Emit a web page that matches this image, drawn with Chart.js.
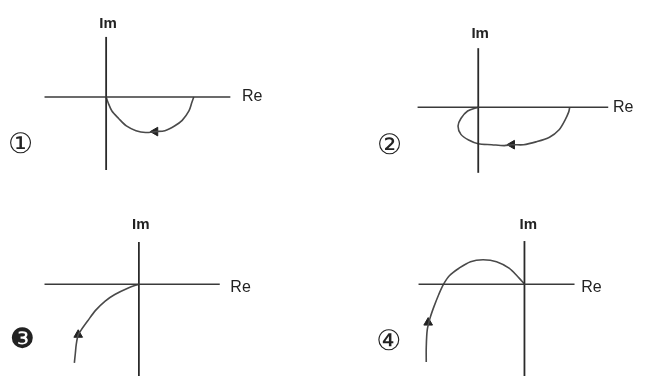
<!DOCTYPE html>
<html>
<head>
<meta charset="utf-8">
<script src="https://cdn.jsdelivr.net/npm/chart.js@4"></script>
<style>
  html, body { margin: 0; padding: 0; background: #fff; }
  #wrap { position: relative; width: 646px; height: 382px; }
  .q { position: absolute; width: 323px; height: 191px; }
</style>
</head>
<body>
<div id="wrap">
  <div class="q" style="left:0;top:0"><canvas id="c1" width="323" height="191"></canvas></div>
  <div class="q" style="left:323px;top:0"><canvas id="c2" width="323" height="191"></canvas></div>
  <div class="q" style="left:0;top:191px"><canvas id="c3" width="323" height="191"></canvas></div>
  <div class="q" style="left:323px;top:191px"><canvas id="c4" width="323" height="191"></canvas></div>
</div>
<script>
// panel numbers
const panelLabels = ["\u2460", "\u2461", "\u2778", "\u2463"];

// extents of the Re / Im axes drawn in each panel
const reAxes = [[-6.4, 12.9], [-6.3, 13.5], [-9.8, 8.4], [-11.0, 5.2]];
const imAxes = [[-7.8, 6.4], [-7.0, 6.3], [-9.8, 4.5], [-9.8, 4.6]];

// vector loci as [Re, Im]
const locus1 = [[0, 0], [0.2, -0.6], [0.6, -1.5], [1.3, -2.3], [2.1, -3.1], [3.1, -3.6], [4.1, -3.8],
  [5.1, -3.7], [6.1, -3.6], [7.1, -3.1], [7.9, -2.5], [8.6, -1.5], [8.9, -0.6], [9.1, 0]];
const locus2 = [[0, 0], [-1.1, -0.4], [-1.8, -1.2], [-2.1, -2.0], [-1.8, -2.9], [-1.0, -3.5], [0, -3.9],
  [1.4, -4.0], [2.7, -4.1], [3.5, -4.0], [4.7, -4.0], [6.0, -3.7], [7.4, -3.2], [8.4, -2.4],
  [9.0, -1.4], [9.4, -0.5], [9.5, 0]];
const locus3 = [[0, 0], [-1.1, -0.4], [-2.5, -1.1], [-3.5, -1.8], [-4.5, -2.8], [-5.3, -3.9],
  [-6.0, -4.9], [-6.3, -5.4], [-6.5, -6.4], [-6.6, -7.4], [-6.7, -8.4]];
const locus4 = [[0, 0], [-0.6, 0.7], [-1.6, 1.7], [-2.9, 2.4], [-4.3, 2.6], [-5.6, 2.4], [-6.8, 1.7],
  [-7.8, 0.9], [-8.4, 0], [-8.9, -1.1], [-9.4, -2.4], [-9.8, -3.6], [-10.1, -4.9], [-10.2, -6.8],
  [-10.2, -8.3]];
const loci = [locus1, locus2, locus3, locus4];

// arrow heads on the loci: [Re, Im, rotation]
const arrows = [[5.1, -3.7, -90], [3.5, -4.0, -90], [-6.3, -5.4, 0], [-10.0, -4.1, 0]];

// where the texts sit, in the panel's own units
const imLabelPos = [[0.2, 7.8], [0.2, 7.8], [0.2, 6.3], [0.4, 6.3]];
const reLabelPos = [[14.1, 0], [14.0, 0], [9.5, -0.4], [5.9, -0.4]];
const numberPos = [[-8.9, -5.2], [-9.2, -4.2], [-12.1, -6.0], [-14.1, -6.2]];

// view window of each panel (10 px per unit)
const views = [
  { x: [-10.4, 21.9], y: [-9.4, 9.7] },
  { x: [-15.5, 16.8], y: [-8.3, 10.8] },
  { x: [-13.8, 18.5], y: [-9.8, 9.3] },
  { x: [-20.3, 12.0], y: [-9.8, 9.3] },
];

const textPlugin = {
  id: "panelText",
  afterDatasetsDraw(chart, args, opts) {
    const { ctx, scales: { x, y } } = chart;
    ctx.save();
    ctx.fillStyle = "#222";
    ctx.textBaseline = "middle";
    opts.items.forEach((t) => {
      ctx.font = t.font;
      ctx.textAlign = t.align;
      ctx.fillText(t.text, x.getPixelForValue(t.pos[0]), y.getPixelForValue(t.pos[1]));
    });
    ctx.restore();
  },
};

const toPts = (arr) => arr.map((p) => ({ x: p[0], y: p[1] }));

for (let i = 0; i < 4; i++) {
  const re = reAxes[i];
  const im = imAxes[i];
  const a = arrows[i];

  new Chart(document.getElementById("c" + (i + 1)), {
    type: "scatter",
    data: {
      datasets: [
        {
          data: [{ x: re[0], y: 0 }, { x: re[1], y: 0 }],
          showLine: true, borderColor: "#3a3a3a", borderWidth: 1.5, pointRadius: 0, clip: false,
        },
        {
          data: [{ x: 0, y: im[0] }, { x: 0, y: im[1] }],
          showLine: true, borderColor: "#2a2a2a", borderWidth: 1.8, pointRadius: 0, clip: false,
        },
        {
          data: toPts(loci[i]),
          showLine: true, borderColor: "#4a4a4a", borderWidth: 1.6, tension: 0.3,
          pointRadius: 0, clip: false,
        },
        {
          data: [{ x: a[0], y: a[1] }],
          pointStyle: "triangle", rotation: a[2], pointRadius: 5,
          backgroundColor: "#222", borderColor: "#222", clip: false,
        },
      ],
    },
    options: {
      responsive: false,
      animation: false,
      layout: { padding: 0 },
      plugins: {
        legend: { display: false },
        tooltip: { enabled: false },
        panelText: {
          items: [
            { text: "Im", pos: imLabelPos[i], align: "center", font: "bold 15px 'Liberation Sans Narrow', 'Liberation Sans'" },
            { text: "Re", pos: reLabelPos[i], align: "left", font: "16px 'Liberation Sans Narrow', 'Liberation Sans'" },
            { text: panelLabels[i], pos: numberPos[i], align: "center", font: "28px 'DejaVu Sans'" },
          ],
        },
      },
      scales: {
        x: { type: "linear", display: false, min: views[i].x[0], max: views[i].x[1] },
        y: { type: "linear", display: false, min: views[i].y[0], max: views[i].y[1] },
      },
    },
    plugins: [textPlugin],
  });
}
</script>
</body>
</html>
